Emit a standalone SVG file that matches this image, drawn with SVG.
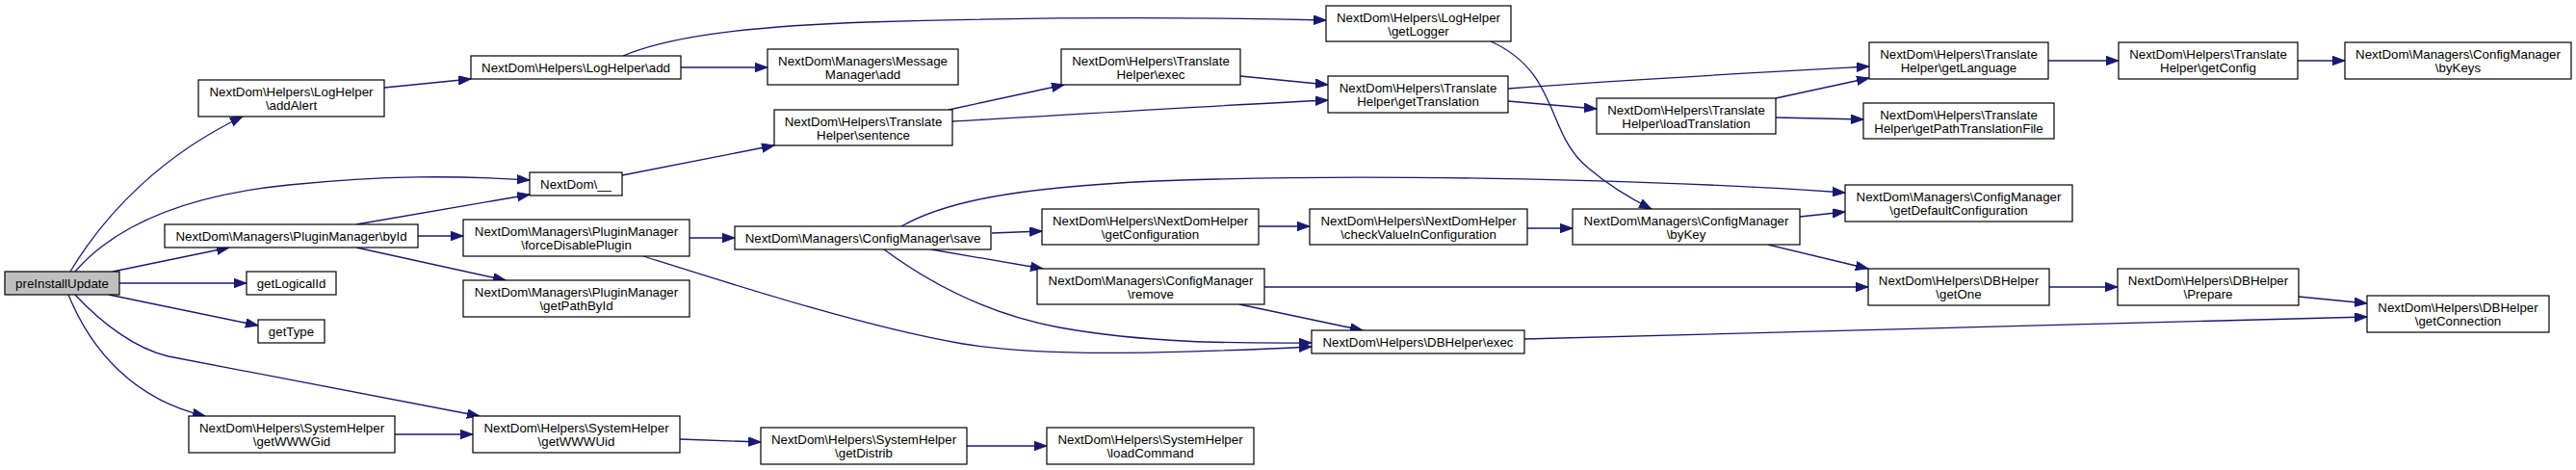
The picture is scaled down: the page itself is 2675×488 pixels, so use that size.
<svg xmlns="http://www.w3.org/2000/svg" width="2675" height="488" viewBox="0 0 2675 488">
<style>
.node rect{fill:#ffffff;stroke:#000000;stroke-width:1.2}
.root rect{fill:#bfbfbf}
.node text{font-family:"Liberation Sans",Arial,Helvetica,sans-serif;font-size:13.3px;text-anchor:middle;fill:#000000}
#edges path{fill:none;stroke:#191970;stroke-width:1.3;marker-end:url(#arr)}
</style>
<defs>
<marker id="arr" markerUnits="userSpaceOnUse" markerWidth="14" markerHeight="10" refX="13" refY="4.7" orient="auto">
<path d="M0,0 L13,4.7 L0,9.4 Z" fill="#191970" stroke="#191970" stroke-width="1"/>
</marker>
</defs>
<rect width="2675" height="488" fill="#ffffff"/>
<g id="edges">
<path d="M73,282 C110,220 170,160 252,121"/>
<path d="M78,282 C110,245 170,205 300,192 C400,182 470,182 550,187"/>
<path d="M117,282 L238,257"/>
<path d="M124,294 L256,294"/>
<path d="M113,306 L268,338"/>
<path d="M78,306 C105,335 140,362 175,370 L498,432"/>
<path d="M71,306 C95,365 140,415 213,432"/>
<path d="M399,91 L489,82"/>
<path d="M707,70 L797,70"/>
<path d="M647,58 C690,40 760,28 900,23 C1100,17 1250,18 1377,21"/>
<path d="M370,233 L550,202"/>
<path d="M434,245 L481,245"/>
<path d="M370,257 L525,291"/>
<path d="M646,182 L804,151"/>
<path d="M985,114 L1105,88"/>
<path d="M989,126 C1100,120 1250,110 1379,104"/>
<path d="M1288,79 L1379,88"/>
<path d="M1566,92 C1700,82 1850,74 1941,69"/>
<path d="M1566,105 L1658,113"/>
<path d="M1844,102 L1941,81"/>
<path d="M1844,122 L1935,124"/>
<path d="M2127,63 L2200,63"/>
<path d="M2386,63 L2435,63"/>
<path d="M1548,43 C1620,75 1605,140 1650,175 C1670,192 1695,207 1715,217"/>
<path d="M716,247 L763,247"/>
<path d="M668,266 C760,295 900,340 1000,357 C1080,370 1200,368 1362,360"/>
<path d="M918,259 C960,290 1020,325 1100,340 C1200,358 1300,356 1362,356"/>
<path d="M936,235 C980,210 1050,195 1200,188 C1400,180 1700,185 1916,200"/>
<path d="M1030,242 L1082,240"/>
<path d="M967,259 L1083,279"/>
<path d="M1307,235 L1360,235"/>
<path d="M1586,237 L1633,237"/>
<path d="M1869,225 L1916,220"/>
<path d="M1836,254 L1940,279"/>
<path d="M1313,298 L1940,298"/>
<path d="M1287,316 L1415,343"/>
<path d="M2128,298 L2199,298"/>
<path d="M2387,308 L2458,315"/>
<path d="M1583,352 C1900,344 2200,336 2458,329"/>
<path d="M410,451 L491,451"/>
<path d="M706,456 L790,459"/>
<path d="M1004,463 L1087,463"/>
</g>
<g id="preInstallUpdate" class="node root"><rect x="5" y="282" width="119" height="24"/><text x="64.5" y="298.5">preInstallUpdate</text></g>
<g id="addAlert" class="node"><rect x="206" y="83" width="193" height="38"/><text x="302.5" y="100">NextDom\Helpers\LogHelper</text><text x="302.5" y="113.5">\addAlert</text></g>
<g id="byId" class="node"><rect x="171" y="233" width="263" height="24"/><text x="302.5" y="249.5">NextDom\Managers\PluginManager\byId</text></g>
<g id="getLogicalId" class="node"><rect x="256" y="282" width="93" height="24"/><text x="302.5" y="298.5">getLogicalId</text></g>
<g id="getType" class="node"><rect x="268" y="332" width="69" height="24"/><text x="302.5" y="348.5">getType</text></g>
<g id="getWWWGid" class="node"><rect x="196" y="432" width="214" height="38"/><text x="303" y="449">NextDom\Helpers\SystemHelper</text><text x="303" y="462.5">\getWWWGid</text></g>
<g id="logAdd" class="node"><rect x="489" y="58" width="218" height="24"/><text x="598" y="74.5">NextDom\Helpers\LogHelper\add</text></g>
<g id="nextdomTranslate" class="node"><rect x="550" y="179" width="96" height="24"/><text x="598" y="195.5">NextDom\__</text></g>
<g id="forceDisablePlugin" class="node"><rect x="481" y="228" width="235" height="38"/><text x="598.5" y="245">NextDom\Managers\PluginManager</text><text x="598.5" y="258.5">\forceDisablePlugin</text></g>
<g id="getPathById" class="node"><rect x="481" y="291" width="235" height="38"/><text x="598.5" y="308">NextDom\Managers\PluginManager</text><text x="598.5" y="321.5">\getPathById</text></g>
<g id="getWWWUid" class="node"><rect x="491" y="432" width="215" height="38"/><text x="598.5" y="449">NextDom\Helpers\SystemHelper</text><text x="598.5" y="462.5">\getWWWUid</text></g>
<g id="messageAdd" class="node"><rect x="797" y="51" width="198" height="37"/><text x="896" y="68">NextDom\Managers\Message</text><text x="896" y="81.5">Manager\add</text></g>
<g id="sentence" class="node"><rect x="804" y="114" width="185" height="37"/><text x="896.5" y="131">NextDom\Helpers\Translate</text><text x="896.5" y="144.5">Helper\sentence</text></g>
<g id="save" class="node"><rect x="763" y="235" width="266" height="24"/><text x="896" y="251.5">NextDom\Managers\ConfigManager\save</text></g>
<g id="getDistrib" class="node"><rect x="790" y="444" width="214" height="38"/><text x="897" y="461">NextDom\Helpers\SystemHelper</text><text x="897" y="474.5">\getDistrib</text></g>
<g id="translateExec" class="node"><rect x="1102" y="51" width="186" height="37"/><text x="1195" y="68">NextDom\Helpers\Translate</text><text x="1195" y="81.5">Helper\exec</text></g>
<g id="getConfiguration" class="node"><rect x="1082" y="217" width="225" height="37"/><text x="1194.5" y="234">NextDom\Helpers\NextDomHelper</text><text x="1194.5" y="247.5">\getConfiguration</text></g>
<g id="remove" class="node"><rect x="1077" y="279" width="236" height="37"/><text x="1195" y="296">NextDom\Managers\ConfigManager</text><text x="1195" y="309.5">\remove</text></g>
<g id="loadCommand" class="node"><rect x="1087" y="444" width="215" height="38"/><text x="1194.5" y="461">NextDom\Helpers\SystemHelper</text><text x="1194.5" y="474.5">\loadCommand</text></g>
<g id="getLogger" class="node"><rect x="1377" y="6" width="192" height="37"/><text x="1473" y="23">NextDom\Helpers\LogHelper</text><text x="1473" y="36.5">\getLogger</text></g>
<g id="getTranslation" class="node"><rect x="1379" y="79" width="187" height="38"/><text x="1472.5" y="96">NextDom\Helpers\Translate</text><text x="1472.5" y="109.5">Helper\getTranslation</text></g>
<g id="checkValueInConfiguration" class="node"><rect x="1360" y="217" width="226" height="37"/><text x="1473" y="234">NextDom\Helpers\NextDomHelper</text><text x="1473" y="247.5">\checkValueInConfiguration</text></g>
<g id="dbExec" class="node"><rect x="1362" y="343" width="221" height="24"/><text x="1472.5" y="359.5">NextDom\Helpers\DBHelper\exec</text></g>
<g id="loadTranslation" class="node"><rect x="1658" y="102" width="186" height="37"/><text x="1751" y="119">NextDom\Helpers\Translate</text><text x="1751" y="132.5">Helper\loadTranslation</text></g>
<g id="byKey" class="node"><rect x="1633" y="217" width="236" height="37"/><text x="1751" y="234">NextDom\Managers\ConfigManager</text><text x="1751" y="247.5">\byKey</text></g>
<g id="getLanguage" class="node"><rect x="1941" y="44" width="186" height="38"/><text x="2034" y="61">NextDom\Helpers\Translate</text><text x="2034" y="74.5">Helper\getLanguage</text></g>
<g id="getPathTranslationFile" class="node"><rect x="1935" y="107" width="198" height="37"/><text x="2034" y="124">NextDom\Helpers\Translate</text><text x="2034" y="137.5">Helper\getPathTranslationFile</text></g>
<g id="getDefaultConfiguration" class="node"><rect x="1916" y="192" width="236" height="38"/><text x="2034" y="209">NextDom\Managers\ConfigManager</text><text x="2034" y="222.5">\getDefaultConfiguration</text></g>
<g id="getOne" class="node"><rect x="1940" y="279" width="188" height="38"/><text x="2034" y="296">NextDom\Helpers\DBHelper</text><text x="2034" y="309.5">\getOne</text></g>
<g id="getConfig" class="node"><rect x="2200" y="44" width="186" height="38"/><text x="2293" y="61">NextDom\Helpers\Translate</text><text x="2293" y="74.5">Helper\getConfig</text></g>
<g id="prepare" class="node"><rect x="2199" y="279" width="188" height="38"/><text x="2293" y="296">NextDom\Helpers\DBHelper</text><text x="2293" y="309.5">\Prepare</text></g>
<g id="byKeys" class="node"><rect x="2435" y="44" width="235" height="38"/><text x="2552.5" y="61">NextDom\Managers\ConfigManager</text><text x="2552.5" y="74.5">\byKeys</text></g>
<g id="getConnection" class="node"><rect x="2458" y="307" width="189" height="38"/><text x="2552.5" y="324">NextDom\Helpers\DBHelper</text><text x="2552.5" y="337.5">\getConnection</text></g>
</svg>
